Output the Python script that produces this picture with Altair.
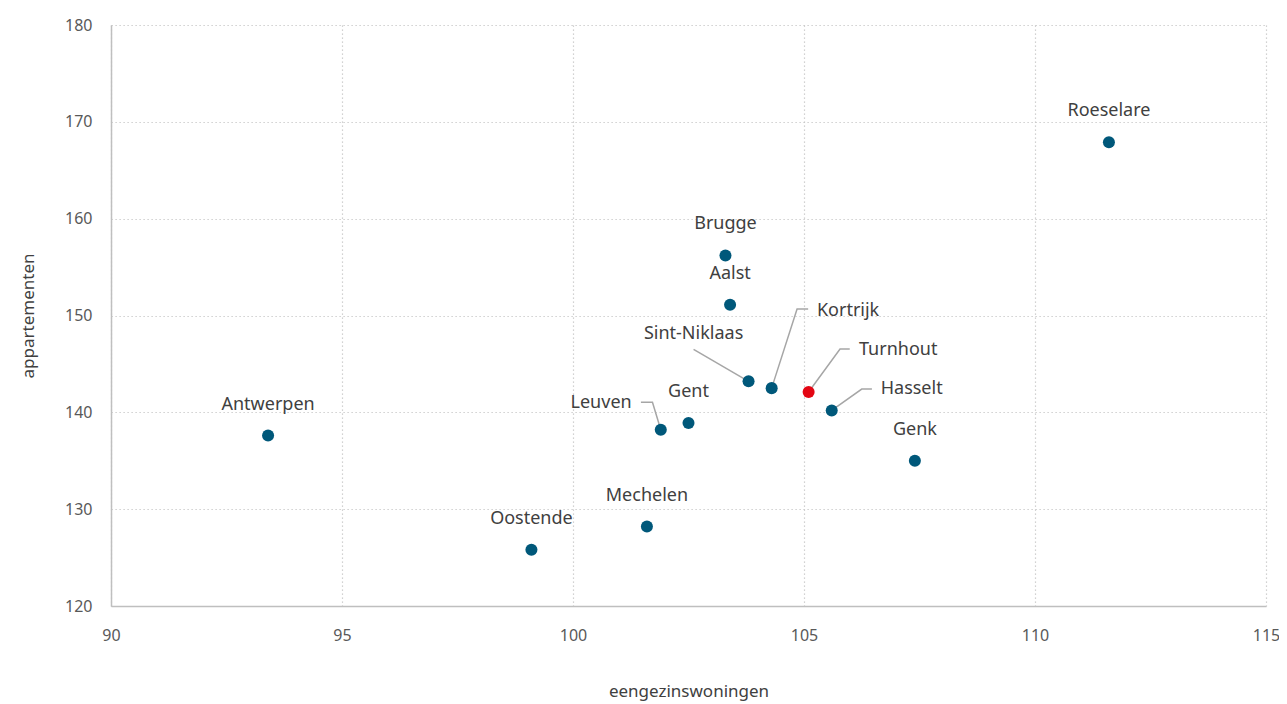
import altair as alt
import pandas as pd

# --- data ---
cities = ["Roeselare", "Brugge", "Aalst", "Sint-Niklaas", "Kortrijk", "Turnhout",
          "Hasselt", "Genk", "Gent", "Leuven", "Mechelen", "Oostende", "Antwerpen"]
eengezins = [111.6, 103.3, 103.4, 103.8, 104.3, 105.1, 105.6, 107.4, 102.5, 101.9, 101.6, 99.1, 93.4]
appart = [167.9, 156.2, 151.1, 143.2, 142.5, 142.1, 140.2, 135.0, 138.9, 138.2, 128.2, 125.8, 137.6]
highlight = ["Turnhout"]

# labels placed directly above their point
above_labels = ["Roeselare", "Brugge", "Aalst", "Genk", "Gent", "Mechelen", "Oostende", "Antwerpen"]

# labels with leader lines: label anchor (data units) and alignment
leader_names = ["Sint-Niklaas", "Kortrijk", "Turnhout", "Hasselt", "Leuven"]
leader_label_x = [102.61, 105.28, 106.19, 106.66, 101.27]
leader_label_y = [148.1, 150.45, 146.43, 142.4, 140.95]
leader_align = ["center", "left", "left", "left", "right"]

# leader polylines (data units), one list of vertices per labelled city
leader_paths = {
    "Sint-Niklaas": [(102.61, 146.5), (103.8, 143.2)],
    "Kortrijk": [(104.3, 142.5), (104.85, 150.66), (105.09, 150.66)],
    "Turnhout": [(105.1, 142.1), (105.78, 146.53), (105.99, 146.53)],
    "Hasselt": [(105.6, 140.2), (106.25, 142.4), (106.47, 142.4)],
    "Leuven": [(101.47, 141.05), (101.72, 141.05), (101.9, 138.2)],
}

x_ticks = [90, 95, 100, 105, 110, 115]
y_ticks = [120, 130, 140, 150, 160, 170, 180]

# --- frames ---
pts = pd.DataFrame({"stad": cities, "x": eengezins, "y": appart})
pts["hl"] = pts["stad"].isin(highlight).map({True: "rood", False: "blauw"})
above = pts[pts["stad"].isin(above_labels)]

lab = pd.DataFrame({"stad": leader_names, "x": leader_label_x, "y": leader_label_y, "align": leader_align})

rows = []
for name, verts in leader_paths.items():
    for i, (vx, vy) in enumerate(verts):
        rows.append({"stad": name, "ord": i, "x": vx, "y": vy})
lines = pd.DataFrame(rows)

FONT = "Noto Sans"
xs = alt.Scale(domain=[90, 115], nice=False, zero=False)
ys = alt.Scale(domain=[120, 180], nice=False, zero=False)

xenc = alt.X("x:Q", scale=xs, axis=alt.Axis(
    values=x_ticks, title="eengezinswoningen", grid=True, ticks=False,
    labelFlush=False, labelOverlap=False,
    labelPadding=21, titlePadding=40, labelFontSize=16, titleFontSize=17,
    labelColor="#595959", titleColor="#404040", labelFont=FONT, titleFont=FONT,
    titleFontWeight="normal", domainColor="#BFBFBF", domainWidth=1.5,
    gridColor="#C4C4C4", gridDash=[1.2, 2.8], gridWidth=1.2))
yenc = alt.Y("y:Q", scale=ys, axis=alt.Axis(
    values=y_ticks, title="appartementen", grid=True, ticks=False,
    labelFlush=False, labelOverlap=False,
    labelPadding=19, titlePadding=27, labelFontSize=16, titleFontSize=17,
    labelColor="#595959", titleColor="#404040", labelFont=FONT, titleFont=FONT,
    titleFontWeight="normal", domainColor="#BFBFBF", domainWidth=1.5,
    gridColor="#C4C4C4", gridDash=[1.2, 2.8], gridWidth=1.2))

leader = alt.Chart(lines).mark_line(color="#A6A6A6", strokeWidth=1.5).encode(
    x=alt.X("x:Q", scale=xs), y=alt.Y("y:Q", scale=ys), detail="stad:N", order="ord:Q")

points = alt.Chart(pts).mark_circle(size=145, opacity=1).encode(
    x=xenc, y=yenc,
    color=alt.Color("hl:N", scale=alt.Scale(domain=["blauw", "rood"], range=["#00587A", "#E30613"]), legend=None))

text_above = alt.Chart(above).mark_text(dy=-31, fontSize=18, font=FONT, color="#404040", baseline="middle").encode(
    x=alt.X("x:Q", scale=xs), y=alt.Y("y:Q", scale=ys), text="stad:N")

text_parts = []
for a in ["center", "left", "right"]:
    sub = lab[lab["align"] == a]
    text_parts.append(alt.Chart(sub).mark_text(align=a, baseline="middle", fontSize=18, font=FONT, color="#404040").encode(
        x=alt.X("x:Q", scale=xs), y=alt.Y("y:Q", scale=ys), text="stad:N"))

chart = alt.layer(leader, points, text_above, *text_parts).properties(
    width=1155, height=581,
    padding={"left": 103, "top": 17, "right": 13, "bottom": 96},
    autosize=alt.AutoSizeParams(type="none"),
).configure_view(stroke=None)

chart.save("out.html", embed_options={"renderer": "svg", "actions": False})
